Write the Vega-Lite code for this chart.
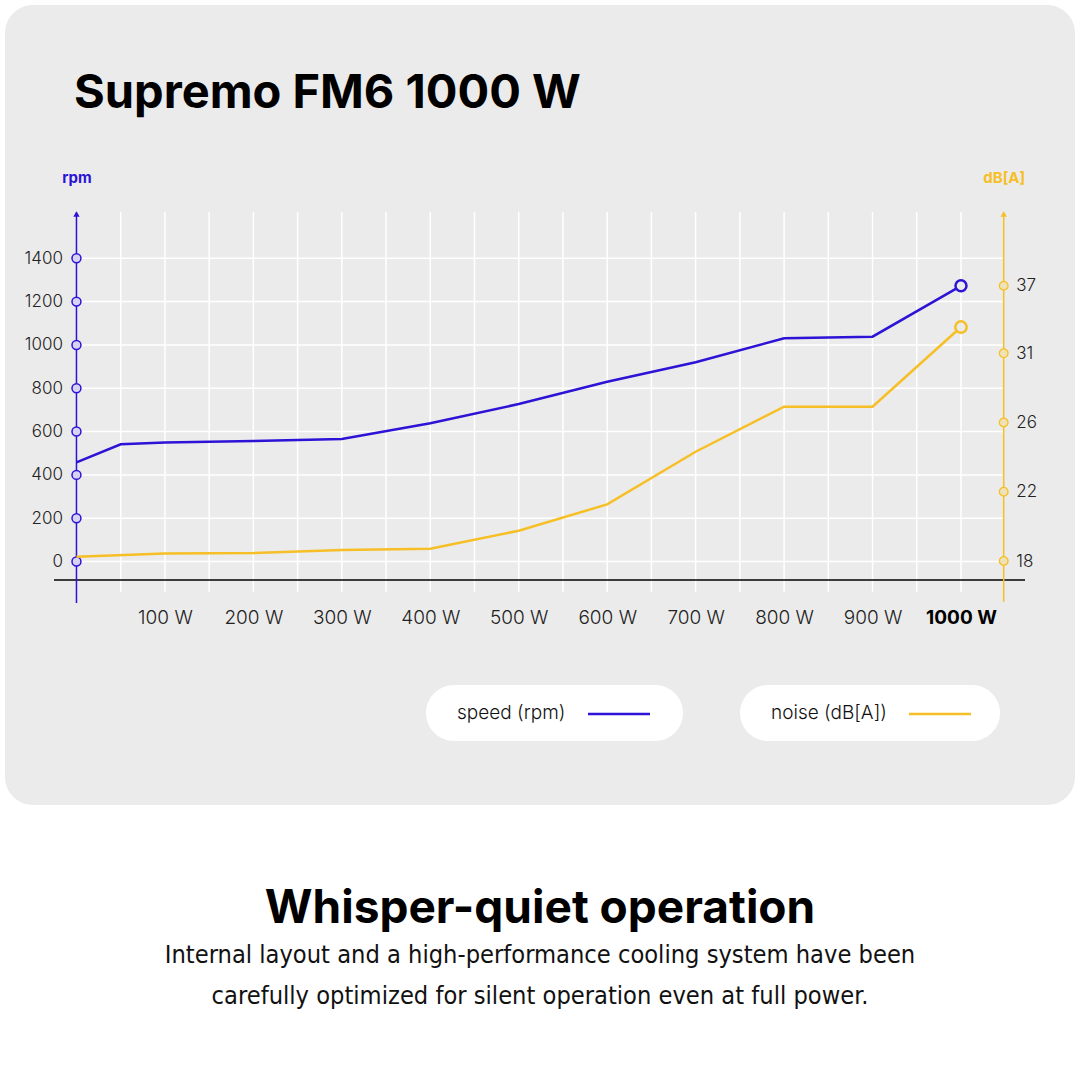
{
  "$schema": "https://vega.github.io/schema/vega-lite/v6.json",
  "background": "white",
  "padding": {"left": 5, "top": 5, "right": 5, "bottom": 5},
  "autosize": {"type": "pad"},
  "spacing": 80,
  "config": {
    "view": {"stroke": null},
    "font": "Inter",
    "axis": {"grid": false, "domain": false, "ticks": false, "tickSize": 0, "labelFont": "Inter", "labelColor": "#222", "titleFont": "Inter"},
    "legend": {"labelFont": "Inter", "titleFont": "Inter"}
  },
  "datasets": {
    "speed": [
      {"watt": 0, "rpm": 458}, {"watt": 50, "rpm": 541}, {"watt": 100, "rpm": 550},
      {"watt": 200, "rpm": 556}, {"watt": 300, "rpm": 566}, {"watt": 400, "rpm": 638},
      {"watt": 500, "rpm": 727}, {"watt": 600, "rpm": 830}, {"watt": 700, "rpm": 920},
      {"watt": 800, "rpm": 1031}, {"watt": 900, "rpm": 1038}, {"watt": 1000, "rpm": 1273}
    ],
    "noise": [
      {"watt": 0, "db": 18.25}, {"watt": 100, "db": 18.44}, {"watt": 200, "db": 18.46},
      {"watt": 300, "db": 18.63}, {"watt": 400, "db": 18.71}, {"watt": 500, "db": 19.75},
      {"watt": 600, "db": 21.27}, {"watt": 700, "db": 24.31}, {"watt": 800, "db": 27.14},
      {"watt": 900, "db": 27.14}, {"watt": 1000, "db": 33.33}
    ],
    "ticksRpm": [{"rpm": 0}, {"rpm": 200}, {"rpm": 400}, {"rpm": 600}, {"rpm": 800}, {"rpm": 1000}, {"rpm": 1200}, {"rpm": 1400}],
    "ticksDb": [{"db": 18}, {"db": 22}, {"db": 26}, {"db": 31}, {"db": 37}],
    "gridW": [{"w": 50}, {"w": 100}, {"w": 150}, {"w": 200}, {"w": 250}, {"w": 300}, {"w": 350}, {"w": 400}, {"w": 450}, {"w": 500}, {"w": 550}, {"w": 600}, {"w": 650}, {"w": 700}, {"w": 750}, {"w": 800}, {"w": 850}, {"w": 900}, {"w": 950}, {"w": 1000}],
    "one": [{"k": 1}]
  },
  "vconcat": [
    {
      "width": 1070,
      "height": 800,
      "view": {"fill": "#ebebeb", "cornerRadius": 28, "stroke": null},
      "title": {"text": "Supremo FM6 1000 W", "anchor": "start", "frame": "group", "dx": 69, "offset": -113, "fontSize": 47, "font": "Inter", "fontWeight": "bold", "color": "#000"},
      "layer": [
        {
          "layer": [
            {
              "data": {"name": "ticksRpm"},
              "mark": {"type": "rule", "color": "#ffffff", "strokeWidth": 1.5},
              "encoding": {
                "x": {"datum": 0, "type": "quantitative", "scale": {"domain": [-80.8, 1128.9], "nice": false, "zero": false}},
                "x2": {"datum": 1048.3},
                "y": {"field": "rpm", "type": "quantitative", "scale": {"domain": [-1124.3, 2569.6], "nice": false, "zero": false},
                  "axis": {"orient": "left", "offset": -71.5, "values": [0, 200, 400, 600, 800, 1000, 1200, 1400], "format": "d", "labelPadding": 14, "labelFontSize": 17, "labelFontWeight": 300, "labelColor": "#222",
                    "title": "rpm", "titleAngle": 0, "titleX": 0, "titleY": 172, "titleAlign": "center", "titleBaseline": "middle", "titleFontSize": 15, "titleFontWeight": "bold", "titleColor": "#2c13d6"}}
              }
            },
            {
              "data": {"name": "gridW"},
              "mark": {"type": "rule", "color": "#ffffff", "strokeWidth": 1.5},
              "encoding": {
                "x": {"field": "w", "type": "quantitative", "scale": {"domain": [-80.8, 1128.9], "nice": false, "zero": false},
                  "axis": {"orient": "bottom", "offset": -225, "values": [100, 200, 300, 400, 500, 600, 700, 800, 900, 1000], "labelExpr": "datum.value + ' W'", "labelFontSize": 19, "labelPadding": 28, "labelFlush": false, "labelOverlap": false,
                    "labelFontWeight": {"condition": {"test": "datum.value === 1000", "value": "bold"}, "value": 300},
                    "labelColor": {"condition": {"test": "datum.value === 1000", "value": "#000"}, "value": "#222"},
                    "title": null}},
                "y": {"datum": -141, "type": "quantitative", "scale": {"domain": [-1124.3, 2569.6], "nice": false, "zero": false}},
                "y2": {"datum": 1614}
              }
            },
            {
              "data": {"name": "one"},
              "mark": {"type": "rule", "color": "#000000", "strokeWidth": 1.3},
              "encoding": {
                "x": {"datum": -25.4, "type": "quantitative", "scale": {"domain": [-80.8, 1128.9], "nice": false, "zero": false}},
                "x2": {"datum": 1072.4},
                "y": {"datum": -85.4, "type": "quantitative", "scale": {"domain": [-1124.3, 2569.6], "nice": false, "zero": false}}
              }
            },
            {
              "data": {"name": "one"},
              "mark": {"type": "rule", "color": "#2c13d6", "strokeWidth": 1.5},
              "encoding": {
                "x": {"datum": 0, "type": "quantitative", "scale": {"domain": [-80.8, 1128.9], "nice": false, "zero": false}},
                "y": {"datum": -191.6, "type": "quantitative", "scale": {"domain": [-1124.3, 2569.6], "nice": false, "zero": false}},
                "y2": {"datum": 1610}
              }
            },
            {
              "data": {"name": "one"},
              "mark": {"type": "point", "shape": "triangle-up", "filled": true, "color": "#2c13d6", "size": 40, "opacity": 1},
              "encoding": {
                "x": {"datum": 0, "type": "quantitative", "scale": {"domain": [-80.8, 1128.9], "nice": false, "zero": false}},
                "y": {"datum": 1605, "type": "quantitative", "scale": {"domain": [-1124.3, 2569.6], "nice": false, "zero": false}}
              }
            },
            {
              "data": {"name": "one"},
              "mark": {"type": "rule", "color": "#f6bf26", "strokeWidth": 1.5},
              "encoding": {
                "x": {"datum": 1048.3, "type": "quantitative", "scale": {"domain": [-80.8, 1128.9], "nice": false, "zero": false}},
                "y": {"datum": -185.6, "type": "quantitative", "scale": {"domain": [-1124.3, 2569.6], "nice": false, "zero": false}},
                "y2": {"datum": 1610}
              }
            },
            {
              "data": {"name": "one"},
              "mark": {"type": "point", "shape": "triangle-up", "filled": true, "color": "#f6bf26", "size": 40, "opacity": 1},
              "encoding": {
                "x": {"datum": 1048.3, "type": "quantitative", "scale": {"domain": [-80.8, 1128.9], "nice": false, "zero": false}},
                "y": {"datum": 1605, "type": "quantitative", "scale": {"domain": [-1124.3, 2569.6], "nice": false, "zero": false}}
              }
            },
            {
              "data": {"name": "speed"},
              "mark": {"type": "line", "strokeWidth": 2.5},
              "encoding": {
                "x": {"field": "watt", "type": "quantitative", "scale": {"domain": [-80.8, 1128.9], "nice": false, "zero": false}},
                "y": {"field": "rpm", "type": "quantitative", "scale": {"domain": [-1124.3, 2569.6], "nice": false, "zero": false}},
                "color": {"datum": "speed (rpm)", "type": "nominal", "scale": {"range": ["#2c13d6"]},
                  "legend": {"orient": "none", "legendX": 421, "legendY": 680, "fillColor": "#ffffff", "cornerRadius": 28.5, "padding": 17,
                    "title": "\u2800speed (rpm)", "titleOrient": "left", "titleAngle": 0, "titleBaseline": "middle", "titleFontSize": 19, "titleFontWeight": 300, "titleColor": "#111", "titlePadding": 20,
                    "symbolType": "M-3,0H3", "symbolSize": 427, "symbolStrokeWidth": 2.5, "symbolOffset": 21,
                    "labelExpr": "'\u00a0'", "labelFontSize": 19, "labelOffset": 35}}
              }
            },
            {
              "data": {"name": "ticksRpm"},
              "mark": {"type": "point", "shape": "circle", "filled": true, "fill": "#d8d2f3", "stroke": "#2c13d6", "strokeWidth": 1.5, "size": 80, "opacity": 1},
              "encoding": {
                "x": {"datum": 0, "type": "quantitative", "scale": {"domain": [-80.8, 1128.9], "nice": false, "zero": false}},
                "y": {"field": "rpm", "type": "quantitative", "scale": {"domain": [-1124.3, 2569.6], "nice": false, "zero": false}}
              }
            },
            {
              "data": {"name": "speed"},
              "transform": [{"filter": {"field": "watt", "equal": 1000}}],
              "mark": {"type": "point", "shape": "circle", "filled": true, "fill": "#ebebeb", "stroke": "#2c13d6", "strokeWidth": 2.5, "size": 121, "opacity": 1},
              "encoding": {
                "x": {"field": "watt", "type": "quantitative", "scale": {"domain": [-80.8, 1128.9], "nice": false, "zero": false}},
                "y": {"field": "rpm", "type": "quantitative", "scale": {"domain": [-1124.3, 2569.6], "nice": false, "zero": false}}
              }
            }
          ]
        },
        {
          "layer": [
            {
              "data": {"name": "noise"},
              "mark": {"type": "line", "strokeWidth": 2.5},
              "encoding": {
                "x": {"field": "watt", "type": "quantitative", "scale": {"domain": [-80.8, 1128.9], "nice": false, "zero": false}},
                "y": {"field": "db", "type": "quantitative", "scale": {"domain": [18, 22, 26, 31, 37], "range": [556, 486.7, 417.5, 348.3, 280.7], "nice": false, "zero": false},
                  "axis": {"orient": "right", "offset": -71.3, "values": [18, 22, 26, 31, 37], "labelPadding": 12, "labelFontSize": 17, "labelFontWeight": 300, "labelColor": "#222",
                    "title": "dB[A]", "titleAngle": 0, "titleX": 0, "titleY": 172, "titleAlign": "center", "titleBaseline": "middle", "titleFontSize": 15, "titleFontWeight": "bold", "titleColor": "#f6bf26"}},
                "color": {"datum": "noise (dB[A])", "type": "nominal", "scale": {"range": ["#f6bf26"]},
                  "legend": {"orient": "none", "legendX": 735, "legendY": 680, "fillColor": "#ffffff", "cornerRadius": 28.5, "padding": 17,
                    "title": "\u2800noise (dB[A])", "titleOrient": "left", "titleAngle": 0, "titleBaseline": "middle", "titleFontSize": 19, "titleFontWeight": 300, "titleColor": "#111", "titlePadding": 20,
                    "symbolType": "M-3,0H3", "symbolSize": 427, "symbolStrokeWidth": 2.5, "symbolOffset": 21,
                    "labelExpr": "'\u00a0'", "labelFontSize": 19, "labelOffset": 31}}
              }
            },
            {
              "data": {"name": "ticksDb"},
              "mark": {"type": "point", "shape": "circle", "filled": true, "fill": "#efe2b8", "stroke": "#f6bf26", "strokeWidth": 1.3, "size": 75, "opacity": 1},
              "encoding": {
                "x": {"datum": 1048.3, "type": "quantitative", "scale": {"domain": [-80.8, 1128.9], "nice": false, "zero": false}},
                "y": {"field": "db", "type": "quantitative", "scale": {"domain": [18, 22, 26, 31, 37], "range": [556, 486.7, 417.5, 348.3, 280.7], "nice": false, "zero": false}}
              }
            },
            {
              "data": {"name": "noise"},
              "transform": [{"filter": {"field": "watt", "equal": 1000}}],
              "mark": {"type": "point", "shape": "circle", "filled": true, "fill": "#ebebeb", "stroke": "#f6bf26", "strokeWidth": 2.5, "size": 130, "opacity": 1},
              "encoding": {
                "x": {"field": "watt", "type": "quantitative", "scale": {"domain": [-80.8, 1128.9], "nice": false, "zero": false}},
                "y": {"field": "db", "type": "quantitative", "scale": {"domain": [18, 22, 26, 31, 37], "range": [556, 486.7, 417.5, 348.3, 280.7], "nice": false, "zero": false}}
              }
            }
          ]
        }
      ],
      "resolve": {"scale": {"y": "independent", "color": "independent"}, "axis": {"y": "independent"}, "legend": {"color": "independent"}}
    },
    {
      "width": 1070,
      "height": 20,
      "view": {"stroke": null},
      "title": {"text": "Whisper-quiet operation", "subtitle": ["Internal layout and a high-performance cooling system have been", "carefully optimized for silent operation even at full power."],
        "anchor": "middle", "frame": "group", "offset": 0, "fontSize": 46, "font": "Inter", "fontWeight": "bold", "color": "#000",
        "subtitleFont": "Liberation Sans Narrow, DejaVu Sans Condensed, Roboto", "subtitleFontSize": 25.2, "subtitleColor": "#111", "subtitleLineHeight": 41, "subtitlePadding": 10},
      "data": {"values": []},
      "mark": {"type": "text"},
      "encoding": {}
    }
  ]
}
